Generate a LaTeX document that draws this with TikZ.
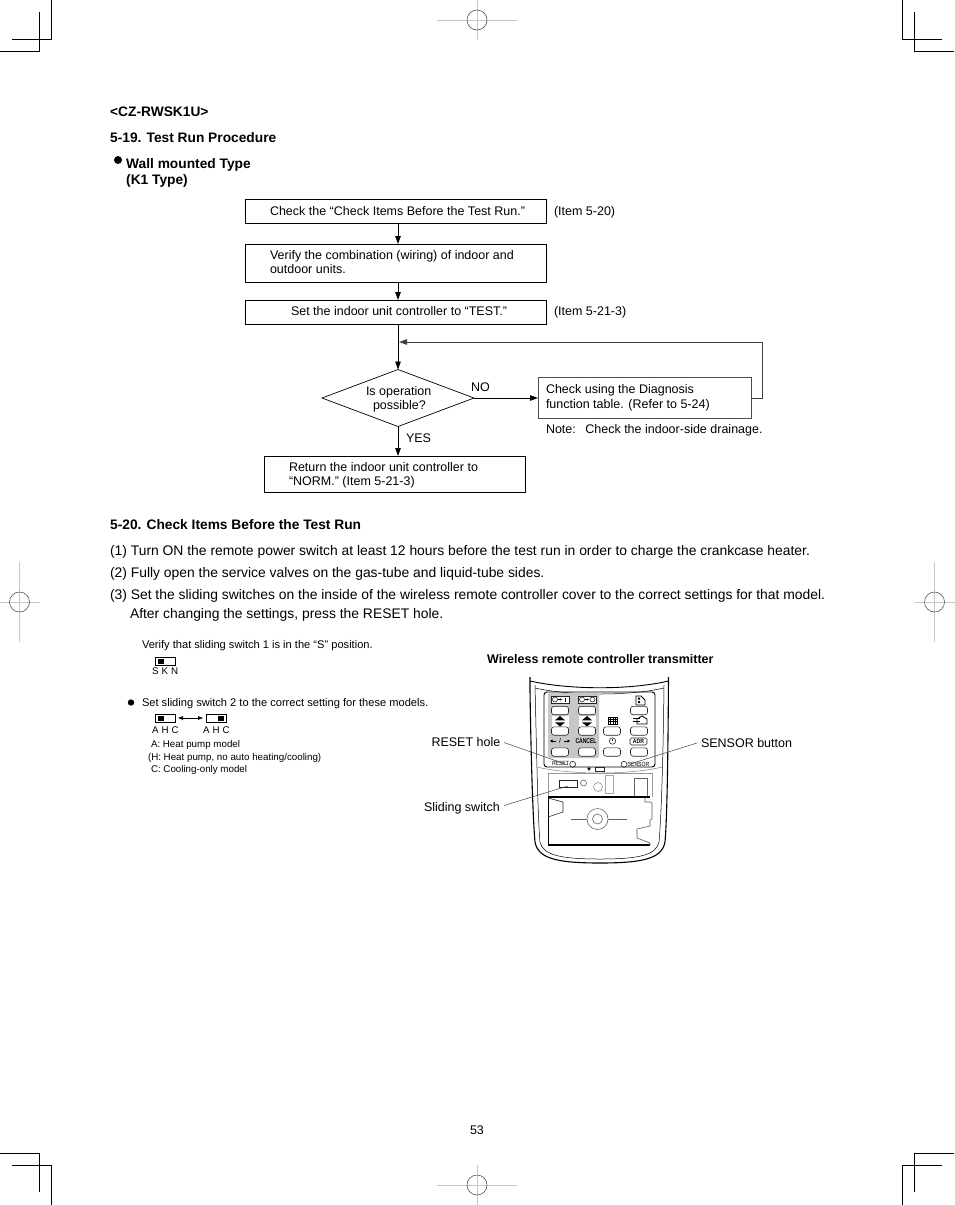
\documentclass[tikz,border=0pt]{standalone}
\usepackage{fontspec}
\usepackage{graphicx}
\setmainfont{Liberation Sans}
\usetikzlibrary{arrows.meta,shapes.geometric}
\tikzset{
 x=1pt,y=-1pt,
 txt/.style={anchor=base west,inner sep=0,outer sep=0,font=\fontsize{#1}{#1}\selectfont},
 lab/.style={txt=12.5},
 bold/.style={anchor=base west,inner sep=0,font=\fontsize{13.75}{13.75}\selectfont\bfseries},
 body/.style={txt=13.88},
 small/.style={txt=11.1},
 tiny/.style={txt=9.77},
 fbox/.style={draw,line width=.9pt,inner sep=0,outer sep=0},
 flow/.style={line width=.9pt,-{Triangle[length=8pt,width=5.5pt]}},
 crop/.style={line width=1pt},
 reg/.style={line width=1pt,black!22},
 lead/.style={line width=.45pt,black!80},
 rm/.style={line width=.6pt,black!85},
 mini/.style={inner sep=0,font=\fontsize{#1}{#1}\selectfont},
}
\newcommand{\regmark}[4]{% cx cy hx vy
 \draw[reg] (#1-#3,#2) -- (#1+#3,#2);
 \draw[reg] (#1,#2-#4) -- (#1,#2+#4);
 \draw[line width=.5pt,black!75] (#1,#2) circle[radius=10];
}
\newcommand{\btn}[2]{\draw[rm,fill=white,rounded corners=2.5pt] (#1-8.5,#2-4.2) rectangle (#1+8.5,#2+4.2);}
\begin{document}
\begin{tikzpicture}
\useasboundingbox (0,0) rectangle (954,1205);
% crop marks
\draw[crop] (51,0)--(51,39)--(12,39) (39,12)--(39,51)--(0,51);
\draw[crop] (902,0)--(902,39)--(942,39) (914,12)--(914,51)--(954,51);
\draw[crop] (0,1153)--(39,1153)--(39,1192) (12,1165)--(51,1165)--(51,1205);
\draw[crop] (954,1153)--(914,1153)--(914,1192) (942,1165)--(902,1165)--(902,1205);
\regmark{477}{20}{40}{20}
\regmark{477}{1185}{40}{20}
\regmark{19.5}{602}{20}{40}
\regmark{934.5}{602}{20}{40}
% headings
\node[bold] (h1) at (110,116) {<CZ-RWSK1U>};
\node[bold] (h2) at (110,142) {5-19. Test Run Procedure};
\fill (118,160) circle[radius=4];
\node[bold] (h3) at (126,168) {Wall mounted Type};
\node[bold] (h4) at (126,184) {(K1 Type)};
% flowchart
\node[fbox,minimum width=301,minimum height=24] (b1) at (396,211) {};
\node[lab] at (270,215) {Check the “Check Items Before the Test Run.”};
\node[lab] at (554,215) {(Item 5-20)};
\node[fbox,minimum width=301,minimum height=38] (b2) at (396,263) {};
\node[lab] at (270,259) {Verify the combination (wiring) of indoor and};
\node[lab] at (270,273) {outdoor units.};
\node[fbox,minimum width=301,minimum height=24] (b3) at (396,312) {};
\node[lab] at (291,315) {Set the indoor unit controller to “TEST.”};
\node[lab] at (554,315) {(Item 5-21-3)};
\node[diamond,draw,line width=.7pt,inner sep=0,outer sep=0,minimum width=152,minimum height=57,aspect=2.67] (d) at (398,398) {};
\node[lab] at (366,395) {Is operation};
\node[lab] at (373,409) {possible?};
\node[fbox,draw=black!70,minimum width=213,minimum height=41] (b4) at (644.5,398) {};
\node[lab] at (546,393) {Check using the Diagnosis};
\node[lab] at (546,408) {function table. (Refer to 5-24)};
\node[lab] at (546,433) {Note:\hspace{9.5pt}Check the indoor-side drainage.};
\node[fbox,minimum width=261,minimum height=36] (b5) at (395,474) {};
\node[lab] at (289,471) {Return the indoor unit controller to};
\node[lab] at (289,485) {“NORM.” (Item 5-21-3)};
\node[lab] at (471,391) {NO};
\node[lab] at (406,442) {YES};
\coordinate (b1s) at (398,223);\coordinate (b2n) at (398,244);
\coordinate (b2s) at (398,282);\coordinate (b3n) at (398,300);
\coordinate (b3s) at (398,324);
\coordinate (fbA) at (762,342);\coordinate (fbB) at (399,342);
\coordinate (b4e) at (751,398);\coordinate (fbC) at (762,398);
\coordinate (ds) at (398,427);\coordinate (b5n) at (398,456);
\draw[flow] (b1s) -- (b2n);
\draw[flow] (b2s) -- (b3n);
\draw[flow] (b3s) -- (d.north);
\draw[flow] (d.east) -- (b4.west);
\draw[flow] (ds) -- (b5n);
\draw[flow,black!75] (b4e) -- (fbC) -- (fbA) -- (fbB);
% section 5-20
\node[bold] at (110,529) {5-20. Check Items Before the Test Run};
\node[body] at (110,555) {(1) Turn ON the remote power switch at least 12 hours before the test run in order to charge the crankcase heater.};
\node[body] at (110,577) {(2) Fully open the service valves on the gas-tube and liquid-tube sides.};
\node[body] at (110,599) {(3) Set the sliding switches on the inside of the wireless remote controller cover to the correct settings for that model.};
\node[body] at (130,618) {After changing the settings, press the RESET hole.};
% switches
\node[small] at (142,648) {Verify that sliding switch 1 is in the “S” position.};
\draw[line width=.7pt] (155.5,657) rectangle (175.5,665);
\fill (158,658.5) rectangle (163.5,663.5);
\node[tiny] at (152,674) {S\hspace{3pt}K\hspace{3pt}N};
\fill (131,702.5) circle[radius=3.2];
\node[small] at (142,706) {Set sliding switch 2 to the correct setting for these models.};
\draw[line width=.7pt] (155.5,714) rectangle (175.5,722);
\fill (158,715.5) rectangle (163.5,720.5);
\draw[line width=.7pt] (206.5,714) rectangle (226.5,722);
\fill (218,715.5) rectangle (223.5,720.5);
\draw[line width=.6pt,{Triangle[length=5pt,width=3.5pt]}-{Triangle[length=5pt,width=3.5pt]}] (178,718) -- (203,718);
\node[tiny] at (152,733) {A\hspace{3pt}H\hspace{3pt}C};
\node[tiny] at (203,733) {A\hspace{3pt}H\hspace{3pt}C};
\node[tiny] at (151,747) {A: Heat pump model};
\node[tiny] at (148,760) {(H: Heat pump, no auto heating/cooling)};
\node[tiny] at (151,772) {C: Cooling-only model};
% remote
\node[anchor=base west,inner sep=0,font=\fontsize{12.5}{12.5}\selectfont\bfseries] at (487,663) {Wireless remote controller transmitter};
\node[lab] (rh) at (431.5,746) {RESET hole};
\node[lab] (sb) at (701,747) {SENSOR button};
\node[lab] (ss) at (424,811) {Sliding switch};
% body
\draw[line width=1.1pt] (530,677) -- (530,690) .. controls (531,760) and (533,820) .. (535,842) .. controls (538,858) and (555,863) .. (600,863) .. controls (645,863) and (662,858) .. (665,842) .. controls (667,820) and (668,760) .. (668.5,677);
\draw[line width=.5pt] (535,685) .. controls (537,770) and (538,820) .. (540,842) .. controls (543,855) and (560,859) .. (600,859) .. controls (640,859) and (656,855) .. (659,842) .. controls (661,820) and (663,770) .. (664,685);
\draw[line width=.9pt] (530,681) .. controls (570,690) and (630,690) .. (668.5,681);
\draw[line width=.5pt] (535,688) .. controls (570,696) and (630,696) .. (664,688);
% panel
\draw[line width=.9pt,rounded corners=3pt] (544,692) rectangle (655,767);
\fill[black!22,rounded corners=2pt] (548,693) rectangle (599,758);
\draw[line width=.5pt,black!50] (537,767) .. controls (570,775) and (630,775) .. (662,767);
\foreach \bx/\lx in {560/551,587/578}{
 \draw[rm,fill=white] (\lx,696) rectangle (\lx+18,703);
 \btn{\bx}{710.5}
 \fill[white] (\bx-8.5,716) rectangle (\bx+8.5,727);
 \fill (\bx-5,720.3) -- (\bx+5,720.3) -- (\bx,716) -- cycle;
 \fill (\bx-5,722.3) -- (\bx+5,722.3) -- (\bx,726.5) -- cycle;
 \btn{\bx}{731}
 \btn{\bx}{752}
}
\btn{612}{731}\btn{612}{752}\btn{639}{710.5}\btn{639}{731}\btn{639}{752}
\draw[rm] (555,699.5) circle[radius=2.5] (582,699.5) circle[radius=2.5] (592.5,699.5) circle[radius=2.5];
\draw[line width=.8pt] (565,697.5) -- (565,701.5);
\draw[line width=.5pt,-{Triangle[length=2pt,width=2pt]}] (558,699.5) -- (562,699.5);
\draw[line width=.5pt,-{Triangle[length=2pt,width=2pt]}] (585,699.5) -- (589,699.5);
% icons
\draw[line width=.8pt] (636,696) -- (636,705) -- (645,705) -- (645,700) -- (641,696) -- cycle;
\fill (638,697.5) rectangle (640,699.5) (638,701) rectangle (640,703);
\draw[line width=.7pt] (608,717) rectangle (617.5,724);
\draw[line width=.5pt] (608,719) -- (617.5,719) (608,721.5) -- (617.5,721.5) (610.5,717) -- (610.5,724) (613,717) -- (613,724) (615.5,717) -- (615.5,724);
\draw[line width=.8pt] (637,724) -- (637,719) -- (642,716) -- (647,719) -- (647,724) -- cycle;
\draw[line width=.8pt] (633,721) -- (640,721) (633,718.5) -- (640,718.5);
% arrows + labels on the third row
\draw[line width=.9pt,-{Triangle[length=2.5pt,width=3pt]}] (556,741) -- (550,741);
\draw[line width=.9pt,-{Triangle[length=2.5pt,width=3pt]}] (564,741) -- (570,741);
\node[mini=7] at (560,741) {/};
\node[inner sep=0,font=\fontsize{7}{7}\selectfont\bfseries] at (586,741) {\scalebox{.72}[1]{CANCEL}};
\draw[rm] (612.5,741) circle[radius=3.2];
\draw[rm] (612.5,739) -- (612.5,741);
\draw[rm,rounded corners=1.5pt] (630,738) rectangle (647,745);
\node[inner sep=0,font=\fontsize{6}{6}\selectfont\bfseries] at (638.5,741.5) {\scalebox{.85}[1]{ADR}};
\node[mini=6] at (560.5,763.5) {\scalebox{.85}[1]{RESET}};
\draw[rm] (572.7,764.3) circle[radius=3];
\draw[rm] (624,764.3) circle[radius=3];
\node[mini=6] at (638.5,764) {\scalebox{.85}[1]{SENSOR}};
\fill (587,767.5) -- (591,767.5) -- (589,771) -- cycle;
\draw[rm] (595,767) rectangle (604,771);
% lower compartment
\draw[line width=.4pt,black!40] (548,797) -- (548,773) -- (652,773) -- (652,797);
\draw[rm] (559,780) rectangle (577,787);
\draw[rm,black!60] (583.5,783) circle[radius=3];
\draw[line width=.4pt,black!60] (598,787) circle[radius=4.5];
\draw[line width=.4pt,black!35] (605,775) rectangle (613,793);
\draw[rm,black!60] (634,778) rectangle (647,797);
\draw[line width=1.3pt] (548,797) -- (650,797);
\draw[line width=.7pt] (548,797) -- (548,845);
\draw[line width=1.3pt] (548,845) -- (650,845);
\draw[rm] (548,798) -- (563,802) -- (563,812) -- (548,817);
\draw[rm,black!65] (645,797) -- (645,802) -- (650,802) -- (652,803) -- (652,819) -- (650,820) -- (650,826) -- (637,829) -- (637,838) -- (650,843) -- (650,845);
\draw[rm,black!60] (597.5,819) circle[radius=10.5];
\draw[rm,black!60] (597.5,819) circle[radius=5];
\draw[line width=.5pt,black!60] (571,819) -- (587,819) (608,819) -- (627,819);
% leaders
\coordinate (rt) at (568,765);\coordinate (st) at (630,764);\coordinate (sl) at (568,786);
\draw[lead] (504,742.5) -- (rt);
\draw[lead] (697,743) -- (st);
\draw[lead] (504,805.5) -- (sl);
% page number
\node[lab] at (470,1134) {53};
\end{tikzpicture}
\end{document}
